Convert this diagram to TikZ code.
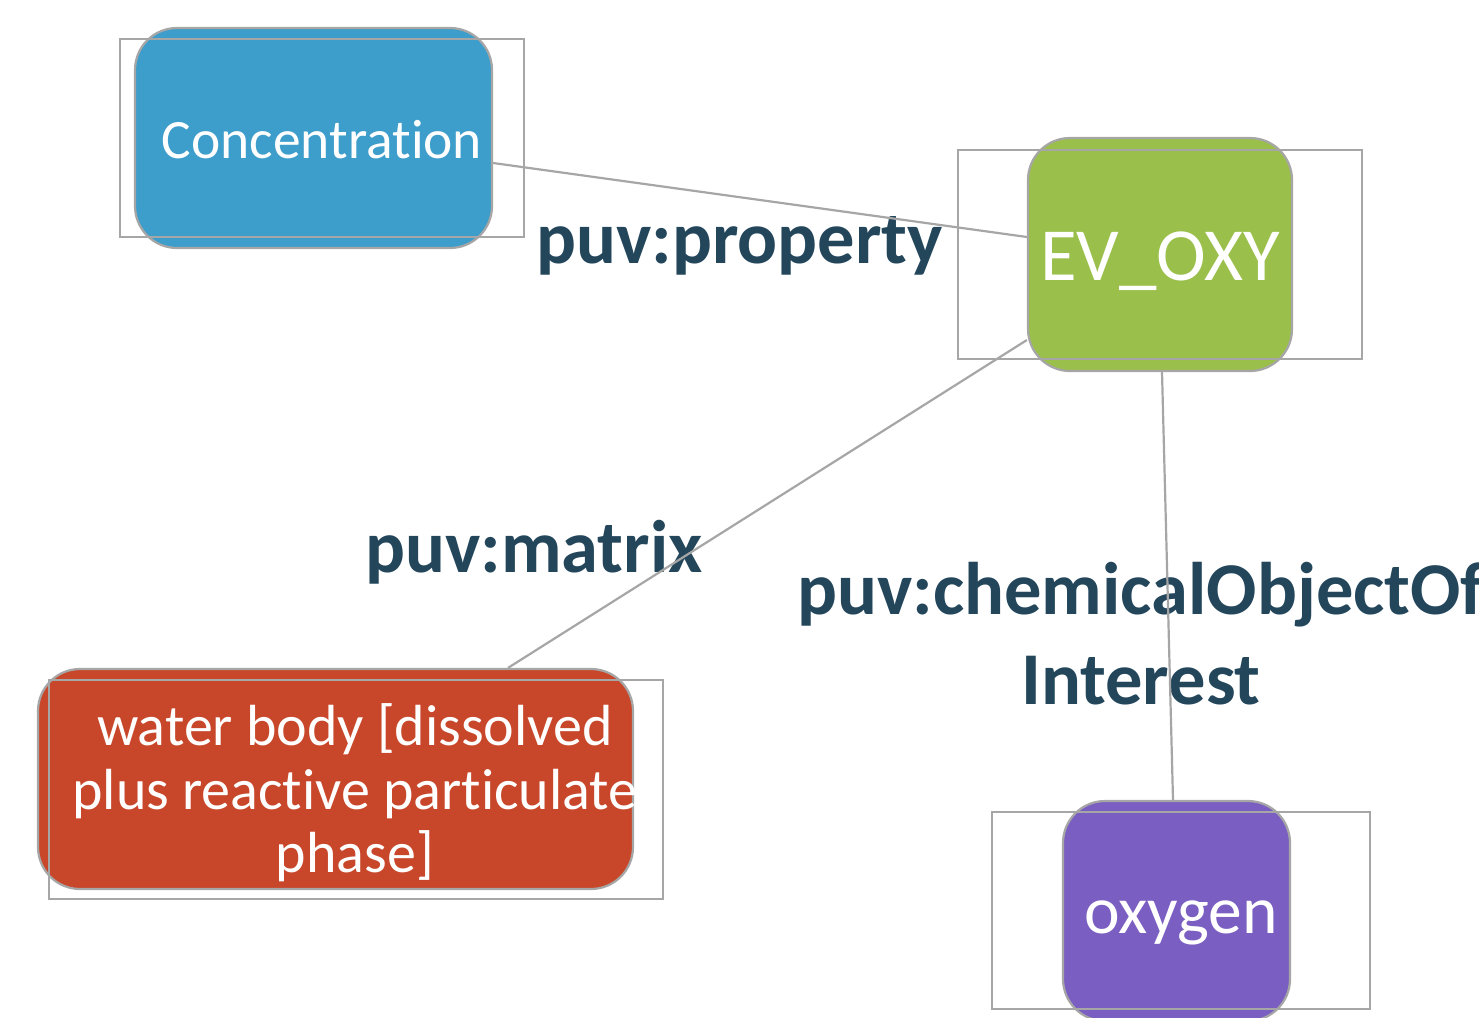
\documentclass[tikz,border=0pt]{standalone}
\usepackage{fontspec}
\setmainfont{Carlito}[Ligatures=NoCommon]
\definecolor{edgegray}{HTML}{A6A6A6}
\definecolor{labelblue}{HTML}{23465B}
\definecolor{cardblue}{HTML}{3D9DCB}
\definecolor{cardgreen}{HTML}{9ABF4B}
\definecolor{cardred}{HTML}{C8472A}
\definecolor{cardpurple}{HTML}{7A5EC2}
\begin{document}
\begin{tikzpicture}[x=1pt,y=-1pt,
  card/.style={draw=edgegray, line width=2.2pt, rounded corners=42pt, inner sep=0pt},
  frame/.style={draw=edgegray, line width=1.6pt, inner sep=0pt},
  cardtext/.style={text=white, inner sep=0pt, align=center},
  rel/.style={text=labelblue, font=\fontsize{74.5}{90}\selectfont\bfseries, inner sep=0pt, align=center},
  link/.style={draw=edgegray, line width=2.2pt}]
\useasboundingbox (0,0) rectangle (1479,1017);

% rounded cards
\node[card, fill=cardblue,   minimum width=357pt, minimum height=220pt] (conc)  at (313.5,138) {};
\node[card, fill=cardgreen,  minimum width=264pt, minimum height=233pt] (ev)    at (1160,254.5) {};
\node[card, fill=cardred,    minimum width=595pt, minimum height=220pt] (water) at (335.5,779) {};
\node[card, fill=cardpurple, minimum width=227pt, minimum height=220pt] (oxy)   at (1176.5,911) {};

% thin frames around the cards
\node[frame, minimum width=404pt, minimum height=198pt] (concFrame)  at (322,138) {};
\node[frame, minimum width=404pt, minimum height=209pt] (evFrame)    at (1160,254.5) {};
\node[frame, minimum width=614pt, minimum height=219pt] (waterFrame) at (356,789.5) {};
\node[frame, minimum width=378pt, minimum height=197pt] (oxyFrame)   at (1181,910.5) {};

% card captions
\node[cardtext, font=\fontsize{55.5}{66}\selectfont, anchor=base] (concText) at (322,158) {Concentration};
\node[cardtext, font=\fontsize{75}{90}\selectfont, anchor=base] (evText) at (1160,280) {EV\_OXY};
\node[cardtext, font=\fontsize{58}{63.5}\selectfont] (waterText) at (355,793)
  {water body [dissolved\\plus reactive particulate\\phase]};
\node[cardtext, font=\fontsize{67.5}{80}\selectfont, anchor=base] (oxyText) at (1181,933) {oxygen};

% relation labels
\node[rel, anchor=base west] (propLabel) at (536,263) {puv:property};
\node[rel, anchor=base west] (matrixLabel) at (365,572) {puv:matrix};
\node[rel] (chemLabel) at (1141,634) {puv:chemicalObjectOf\\Interest};

% connectors
\draw[link] ([yshift=-25pt]conc.east) -- ([yshift=17.5pt]ev.west);
\draw[link] ([yshift=-85.5pt]ev.west) -- ([xshift=172.5pt]water.north);
\draw[link] ([xshift=2pt]ev.south) -- ([xshift=-3.5pt]oxy.north);
\end{tikzpicture}
\end{document}
